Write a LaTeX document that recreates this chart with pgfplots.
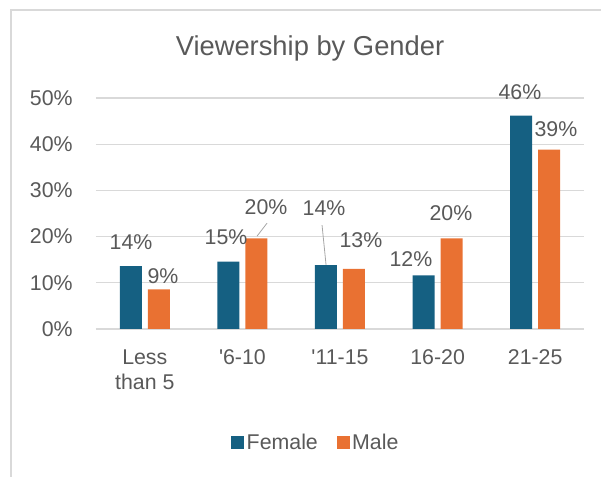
\documentclass[border=0pt]{standalone}
\usepackage{fontspec}
\setmainfont{Liberation Sans}
\usepackage{pgfplots}
\pgfplotsset{compat=1.18}
\definecolor{femalec}{HTML}{156082}
\definecolor{malec}{HTML}{E97132}
\definecolor{txt}{HTML}{595959}
\definecolor{gridc}{HTML}{D9D9D9}
\begin{document}
\begin{tikzpicture}[x=1pt,y=1pt]
\path[use as bounding box] (-72pt,-111pt) rectangle (378.75pt,246.75pt);
\draw[gridc, line width=1pt] (-63.75pt,-115pt) -- (-63.75pt,239.25pt) -- (380pt,239.25pt);
\begin{axis}[
  at={(0pt,0pt)}, anchor=south west,
  scale only axis, width=366pt, height=173.25pt,
  ybar=4.5pt, bar width=16.5pt,
  xmin=-0.5, xmax=4.5, ymin=0, ymax=50,
  xtick={0,1,2,3,4},
  xticklabels={{Less\\than 5},{\textquotesingle6-10},{\textquotesingle11-15},{16-20},{21-25}},
  ytick={0,10,20,30,40,50},
  yticklabels={0\%,10\%,20\%,30\%,40\%,50\%},
  major tick length=0pt,
  axis line style={draw=none},
  ymajorgrids, grid style={gridc, line width=0.9pt},
  tick label style={font=\fontsize{16}{19}\selectfont, text=txt},
  xticklabel style={align=center, yshift=-12pt},
  yticklabel style={xshift=-14pt},
  clip=false,
  legend style={at={(0.451,-0.4935)}, anchor=center, draw=none, fill=none,
    legend columns=2, font=\fontsize{16}{19}\selectfont, text=txt,
    /tikz/every even column/.append style={column sep=12pt}},
]
\addplot[fill=femalec, draw=none,
  legend image code/.code={\fill[femalec] (0pt,-4.5pt) rectangle (9.75pt,5.25pt);}]
  coordinates {(0,13.6) (1,14.6) (2,13.8) (3,11.6) (4,46.2)};
\addlegendentry{Female}
\addplot[fill=malec, draw=none,
  legend image code/.code={\fill[malec] (0pt,-4.5pt) rectangle (9.75pt,5.25pt);}]
  coordinates {(0,8.6) (1,19.6) (2,13.0) (3,19.6) (4,38.8)};
\addlegendentry{Male}
\begin{scope}[every node/.style={font=\fontsize{16}{19}\selectfont, text=txt}]
\node at (axis cs:-0.141,18.8) {14\%};
\node at (axis cs:0.186,11.5) {9\%};
\node at (axis cs:0.832,19.9) {15\%};
\node at (axis cs:1.242,26.4) {20\%};
\node at (axis cs:1.836,26.2) {14\%};
\node at (axis cs:2.215,19.3) {13\%};
\node at (axis cs:2.727,15.2) {12\%};
\node at (axis cs:3.137,25.1) {20\%};
\node at (axis cs:3.844,51.3) {46\%};
\node at (axis cs:4.213,43.3) {39\%};
\end{scope}
\draw[gray!70, line width=0.6pt] (axis cs:1.150,20.1) -- (axis cs:1.252,22.9);
\draw[gray!70, line width=0.6pt] (axis cs:1.816,22.5) -- (axis cs:1.857,13.9);
\end{axis}
\node[font=\fontsize{20.5}{24}\selectfont, text=txt] at (160.5pt,210.75pt) {Viewership by Gender};
\end{tikzpicture}
\end{document}
